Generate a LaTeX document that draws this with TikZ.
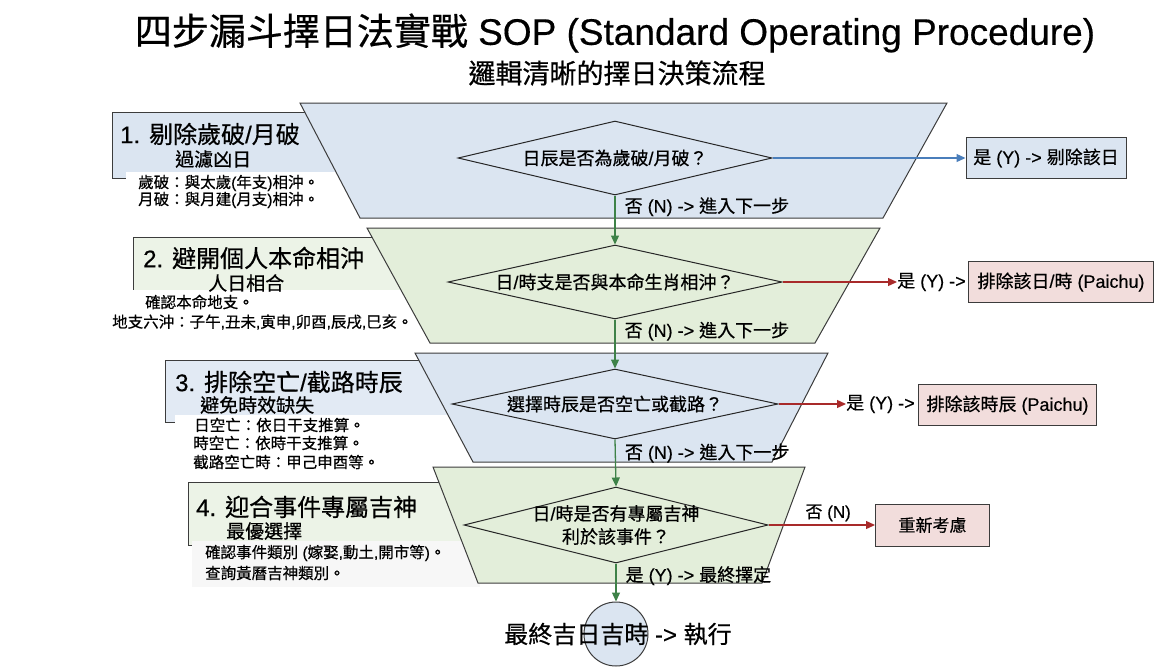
\documentclass[tikz,border=0pt]{standalone}
\usepackage{fontspec}
\setmainfont{Liberation Sans}
\newfontfamily\latfont[FakeBold=0.4]{Liberation Sans}
\newfontfamily\cjkfont[FakeBold=0.6]{Noto Sans CJK TC}
\usetikzlibrary{shapes.geometric,arrows.meta}
\newcount\cjkcnt
\newcommand\setcjkrange[2]{\cjkcnt=#1\relax\loop\XeTeXcharclass\cjkcnt=7\relax\ifnum\cjkcnt<#2\relax\advance\cjkcnt by 1\relax\repeat}
\setcjkrange{"3000}{"303F}
\setcjkrange{"3400}{"4DBF}
\setcjkrange{"4E00}{"9FFF}
\setcjkrange{"FF00}{"FFEF}
\XeTeXinterchartokenstate=1
\XeTeXinterchartoks 0 7 = {\cjkfont}
\XeTeXinterchartoks 4095 7 = {\cjkfont}
\XeTeXinterchartoks 7 0 = {\latfont}
\XeTeXinterchartoks 7 4095 = {\latfont}
\definecolor{tblue}{RGB}{219,229,241}
\definecolor{tgreen}{RGB}{227,238,218}
\definecolor{bgreen}{RGB}{236,243,231}
\definecolor{pinkf}{RGB}{242,221,220}
\definecolor{edgec}{RGB}{60,60,60}
\definecolor{garr}{RGB}{62,130,72}
\definecolor{barr}{RGB}{74,126,187}
\definecolor{rarr}{RGB}{168,42,42}
\tikzset{
  every node/.style={font=\latfont},
  stepbox/.style={draw=edgec, line width=0.9pt},
  trap/.style={draw=edgec, line width=1pt},
  head/.style={anchor=west, inner sep=0pt, font=\latfont\fontsize{24}{27}\selectfont},
  subh/.style={anchor=west, inner sep=0pt, font=\latfont\fontsize{19}{22}\selectfont},
  note/.style={anchor=west, inner sep=0pt, font=\latfont\fontsize{15.5}{17}\selectfont},
  dia/.style={diamond, draw=black!85, line width=1pt, inner sep=0pt},
  dtext/.style={font=\latfont\fontsize{18}{23}\selectfont, align=center, inner sep=0pt},
  lab/.style={anchor=west, inner sep=0pt, xshift=9pt, font=\latfont\fontsize{18}{21}\selectfont},
  rbox/.style={draw=edgec, line width=1pt, minimum height=41pt, inner sep=0pt, font=\latfont\fontsize{18}{21}\selectfont},
  ytext/.style={anchor=west, inner sep=0pt, font=\latfont\fontsize{18}{21}\selectfont},
  garrow/.style={draw=garr, line width=1.3pt, -{Triangle[length=9pt,width=8pt]}},
  barrow/.style={draw=barr, line width=1.3pt, -{Triangle[length=9pt,width=8pt]}},
  rarrow/.style={draw=rarr, line width=1.3pt, -{Triangle[length=9pt,width=8pt]}},
}
\begin{document}
\begin{tikzpicture}[x=1pt,y=-1pt]
\useasboundingbox (0,0) rectangle (1170,670);
% title
\node[font=\latfont\fontsize{37}{40}\selectfont, inner sep=0pt] (title) at (615,33) {四步漏斗擇日法實戰 SOP (Standard Operating Procedure)};
\node[font=\latfont\fontsize{27}{30}\selectfont, inner sep=0pt] (subtitle) at (617,73) {邏輯清晰的擇日決策流程};
% step boxes
\draw[stepbox, fill=tblue] (112,112) rectangle (400,178);
\draw[stepbox, fill=bgreen] (133,237) rectangle (450,292);
\draw[stepbox, fill=tblue!80!white] (165,360) rectangle (470,422);
\draw[stepbox, fill=bgreen] (188,482) rectangle (480,545);
% white note backgrounds
\fill[white] (126,172) rectangle (380,210);
\fill[white] (104,290) rectangle (440,335);
\fill[white] (175,415) rectangle (470,472);
\fill[white!97!black] (192,541) rectangle (480,587);
% funnel
\draw[trap, fill=tblue] (300,103) -- (947,103) -- (883,218) -- (360,218) -- cycle;
\draw[trap, fill=tgreen] (367,228) -- (880,228) -- (815,343) -- (430,343) -- cycle;
\draw[trap, fill=tblue] (415,353) -- (828,353) -- (772,462) -- (473,462) -- cycle;
\draw[trap, fill=tgreen] (433,467) -- (805,467) -- (762,583) -- (478,583) -- cycle;
% step texts
\node[head] (h1) at (120,134) {1. 剔除歲破/月破};
\node[subh] (s1) at (175,159) {過濾凶日};
\node[note] (n1a) at (138,183) {歲破：與太歲(年支)相沖。};
\node[note] (n1b) at (138,200) {月破：與月建(月支)相沖。};
\node[head] (h2) at (143,258) {2. 避開個人本命相沖};
\node[subh] (s2) at (208,283) {人日相合};
\node[note] (n2a) at (145,302) {確認本命地支。};
\node[note] (n2b) at (112,322) {地支六沖：子午,丑未,寅申,卯酉,辰戌,巳亥。};
\node[head] (h3) at (175,382) {3. 排除空亡/截路時辰};
\node[subh] (s3) at (200,405) {避免時效缺失};
\node[note] (n3a) at (194,425) {日空亡：依日干支推算。};
\node[note] (n3b) at (193,443) {時空亡：依時干支推算。};
\node[note] (n3c) at (193,462) {截路空亡時：甲己申酉等。};
\node[head] (h4) at (196,507) {4. 迎合事件專屬吉神};
\node[subh] (s4) at (226,531) {最優選擇};
\node[note] (n4a) at (205,553) {確認事件類別 (嫁娶,動土,開市等)。};
\node[note] (n4b) at (205,573) {查詢黃曆吉神類別。};
% diamonds
\node[dia, minimum width=314pt, minimum height=74pt, label={[dtext]center:{日辰是否為歲破/月破？}}] (d1) at (615,158) {};
\node[dia, minimum width=334pt, minimum height=74pt, label={[dtext]center:{日/時支是否與本命生肖相沖？}}] (d2) at (615,282) {};
\node[dia, minimum width=326pt, minimum height=70pt, label={[dtext]center:{選擇時辰是否空亡或截路？}}] (d3) at (615,404) {};
\node[dia, minimum width=304pt, minimum height=76pt, label={[dtext]center:{日/時是否有專屬吉神\\利於該事件？}}] (d4) at (616,525) {};
% final
\node[circle, draw=edgec, line width=1pt, fill=tblue, minimum size=64pt, inner sep=0pt] (fin) at (616,634) {};
\node[font=\latfont\fontsize{24}{27}\selectfont, inner sep=0pt] (fintext) at (618,634) {最終吉日吉時 -> 執行};
% right side
\node[rbox, fill=tblue, minimum width=160pt] (y1) at (1046,158) {是 (Y) -> 剔除該日};
\node[ytext] (y2l) at (897,282) {是 (Y) ->};
\node[rbox, fill=pinkf, minimum width=185pt, anchor=west] (y2) at (968,282) {排除該日/時 (Paichu)};
\node[ytext] (y3l) at (846,404) {是 (Y) ->};
\node[rbox, fill=pinkf, minimum width=178pt, anchor=west] (y3) at (918,405) {排除該時辰 (Paichu)};
\node[rbox, fill=pinkf, minimum width=114pt, minimum height=42pt, anchor=west, font=\latfont\fontsize{17}{20}\selectfont] (n4) at (875,525) {重新考慮};
% connectors
\draw[garrow] (d1.south) -- node[lab, pos=0.23] {否 (N) -> 進入下一步} (d2.north);
\draw[garrow] (d2.south) -- node[lab, pos=0.24] {否 (N) -> 進入下一步} (d3.north);
\draw[garrow] (d3.south) -- node[lab, pos=0.29] {否 (N) -> 進入下一步} (d4.north);
\draw[garrow] (d4.south) -- node[lab, pos=0.32] {是 (Y) -> 最終擇定} (fin.north);
\draw[barrow] (d1.east) -- (y1.west);
\draw[rarrow] (d2.east) -- (y2l.west);
\draw[rarrow] (d3.east) -- (y3l.west);
\draw[rarrow] (d4.east) -- node[pos=0.56, above=3pt, inner sep=0pt, font=\latfont\fontsize{17}{20}\selectfont] {否 (N)} (n4.west);
\end{tikzpicture}
\end{document}
